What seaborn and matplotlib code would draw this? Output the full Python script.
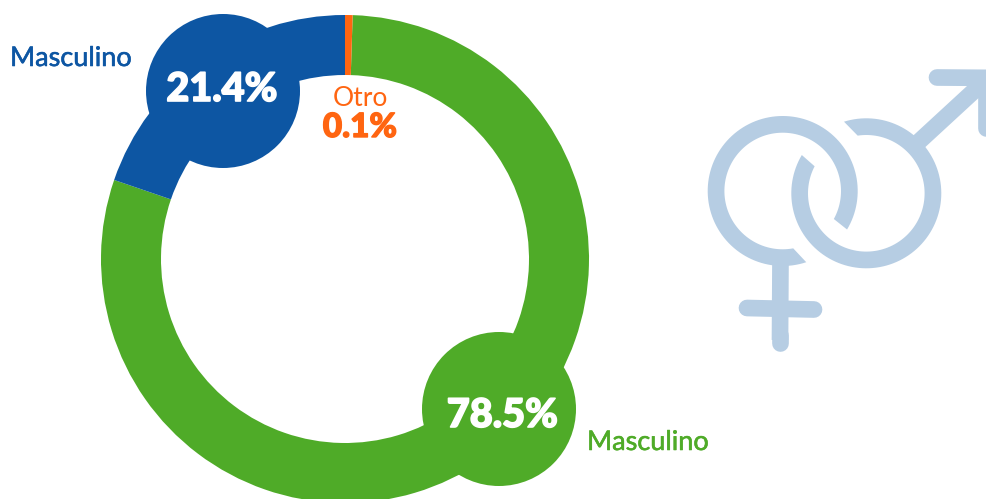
import matplotlib
matplotlib.use("Agg")
import matplotlib.pyplot as plt
import matplotlib.patheffects as pe
from matplotlib.patches import Circle
import numpy as np
import seaborn as sns

# Printed labels
categories = ["Otro", "Femenino-slice", "Masculino"]
printed_labels = ["0.1%", "78.5%", "21.4%"]
# Slice shares as drawn in the picture (arc lengths, the thin one is wider than 0.1%)
drawn_shares = [0.5, 79.75, 19.75]

sns.set_theme(style="white")
plt.rcParams["font.family"] = ["Lato", "Open Sans", "DejaVu Sans"]

colors = {"Otro": "#FF6511", "Femenino-slice": "#4FAB28", "Masculino": "#0D56A3"}
icon_color = "#B6CDE3"


def heavy(color, width):
    return [pe.withStroke(linewidth=width, foreground=color)]


def ring_arc(ax, center, outer_angles, inner_angles, r_out=75, r_in=58.3):
    # open ring with slanted ends, angles as seen on the picture (y up)
    a = np.radians(np.linspace(outer_angles[0], outer_angles[1], 120))
    b = np.radians(np.linspace(inner_angles[1], inner_angles[0], 120))
    xs = np.r_[center[0] + r_out * np.cos(a), center[0] + r_in * np.cos(b)]
    ys = np.r_[center[1] - r_out * np.sin(a), center[1] - r_in * np.sin(b)]
    ax.fill(xs, ys, color=icon_color, lw=0)


fig = plt.figure(figsize=(9.87, 4.99), dpi=100)
ax = fig.add_axes([0, 0, 1, 1])

# y axis runs downwards so positions are the pixels of the picture
wedges, _ = ax.pie(drawn_shares, colors=[colors[c] for c in categories], startangle=-90,
                   center=(345, 259), radius=244, wedgeprops={"width": 60, "linewidth": 0})
wedges[0].set_zorder(5)
ax.set_xlim(0, 987)
ax.set_ylim(499, 0)
ax.set_aspect("equal")
ax.axis("off")

# round blobs behind the big numbers
ax.add_patch(Circle((223, 91), 77, color=colors["Masculino"], lw=0, zorder=3))
ax.add_patch(Circle((499, 409), 77, color=colors["Femenino-slice"], lw=0, zorder=3))

ax.text(222, 101, printed_labels[2], color="white", fontsize=28.5, fontweight="black", ha="center", va="baseline",
        path_effects=heavy("white", 1.2), zorder=6)
ax.text(502.5, 427, printed_labels[1], color="white", fontsize=28.5, fontweight="black", ha="center", va="baseline",
        path_effects=heavy("white", 1.2), zorder=6)
ax.text(360, 137, printed_labels[0], color=colors["Otro"], fontsize=24, fontweight="black", ha="center", va="baseline",
        path_effects=heavy(colors["Otro"], 1), zorder=6)
ax.text(360.5, 106, categories[0], color=colors["Otro"], fontsize=19, fontweight="normal", ha="center", va="baseline", zorder=6)
ax.text(10, 66, categories[2], color=colors["Masculino"], fontsize=19.5, ha="left", va="baseline",
        path_effects=heavy(colors["Masculino"], 0.4), zorder=6)
ax.text(587, 450, categories[2], color=colors["Femenino-slice"], fontsize=19.5, ha="left", va="baseline",
        path_effects=heavy(colors["Femenino-slice"], 0.4), zorder=6)

# gender icon
ring_arc(ax, (782.7, 191), (-71.7, -390.9), (-79.6, -388.7))
ring_arc(ax, (866.3, 193.3), (107.3, -210.7), (98.5, -207.6))
stroke = {"color": icon_color, "lw": 12, "solid_capstyle": "round"}
ax.plot([780.5, 780], [258, 340], color=icon_color, lw=12, solid_capstyle="butt")
ax.plot([780, 780], [335, 343], **stroke)
ax.plot([747, 814], [308, 309.5], **stroke)
ax.plot([912, 988], [148, 78], color=icon_color, lw=12, solid_capstyle="butt")
ax.plot([937, 1010], [77.5, 78], **stroke)
ax.plot([986, 986], [78, 128], **stroke)

fig.savefig("out.png", dpi=100)
